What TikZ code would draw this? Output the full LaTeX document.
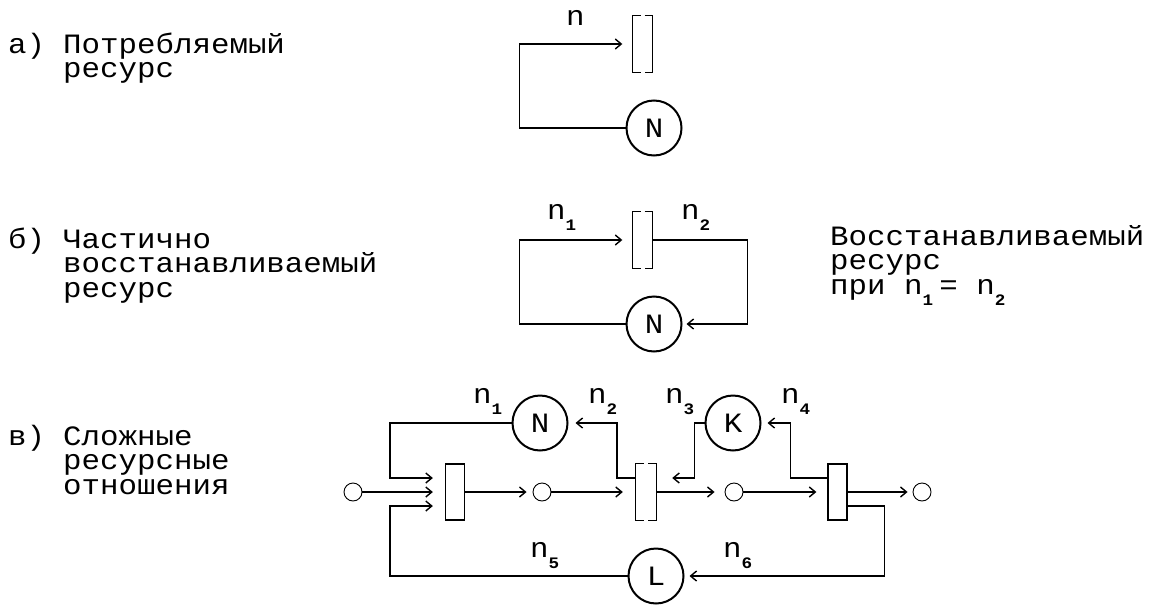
\documentclass[tikz,border=0pt]{standalone}
\usepackage{fontspec}
\setmainfont[FakeStretch=1.1]{Liberation Mono}
\usetikzlibrary{arrows.meta,positioning}

% small bold index under the letter n
\newcommand{\ix}[1]{\makebox[0.6em][l]{\raisebox{-11pt}{\fontsize{16}{16}\selectfont\bfseries #1}}}
% box drawn as two brackets
\newcommand{\splitbox}[1]{%
  \draw[line width=1.3pt] ([xshift=-2pt]#1.north) -| (#1.south west) -- ([xshift=-2pt]#1.south);
  \draw[line width=1.3pt] ([xshift=2pt]#1.north) -| (#1.south east) -- ([xshift=2pt]#1.south);}

\begin{document}
\begin{tikzpicture}[x=1pt,y=-1pt,font=\fontsize{28}{24.5}\selectfont,
  >={Straight Barb[length=6pt,width=10pt]},
  txt/.style={anchor=base west,inner sep=0pt,align=left},
  lbl/.style={anchor=base west,inner sep=0pt},
  rbox/.style={draw,line width=1.3pt,minimum width=19pt,minimum height=56pt,inner sep=0pt},
  hbox/.style={minimum width=20pt,minimum height=56pt,inner sep=0pt},
  res/.style={circle,draw,line width=2pt,minimum size=55pt,inner sep=0pt},
  tok/.style={circle,draw,line width=0.9pt,minimum size=18pt,inner sep=0pt},
  link/.style={line width=1.4pt}]
  \useasboundingbox (0,0) rectangle (1159,605);

  % captions (base = last line)
  \node[txt] (a-tag) at (8,53) {а)};
  \node[txt] (a-text) at (63,77.5) {Потребляемый\\ресурс};
  \node[txt] (b-tag) at (8,248) {б)};
  \node[txt] (b-text) at (63,297) {Частично\\восстанавливаемый\\ресурс};
  \node[txt] (c-tag) at (8,445) {в)};
  \node[txt] (c-text) at (63,494) {Сложные\\ресурсные\\отношения};
  \node[txt] (b-note) at (830,294) {Восстанавливаемый\\ресурс\\при n\ix{1}= n\ix{2}};

  % a) consumed resource
  \node[hbox] (ra) at (642.5,44) {};
  \splitbox{ra}
  \node[res] (Na) at (654,128) {N};
  \draw[link,->,shorten >=10pt] (Na.west) -- ++(-106,0) |- (ra.west);
  \node[lbl] (na) at (566,25) {n};

  % b) partly restored resource
  \node[hbox] (rb) at (642.5,240) {};
  \splitbox{rb}
  \node[res] (Nb) at (654,324) {N};
  \draw[link,->,shorten >=10pt] (Nb.west) -- ++(-106,0) |- (rb.west);
  \draw[link,->,shorten >=4pt] (rb.east) -- ++(94.5,0) |- (Nb.east);
  \node[lbl] (nb1) at (547,219) {n\ix{1}};
  \node[lbl] (nb2) at (681,219) {n\ix{2}};

  % c) complex relations
  \coordinate (lbus) at (390,0);
  \node[tok] (s0) at (353,492) {};
  \node[rbox] (r1) at (455,492) {};
  \node[tok] (s1) at (542,492) {};
  \node[hbox] (r2) at (646,492) {};
  \splitbox{r2}
  \node[tok] (s2) at (734,492) {};
  \node[rbox] (r3) at (837.5,492) {};
  \node[tok] (s3) at (922,492) {};
  \node[res] (Nc) at (540,423) {N};
  \node[res] (Kc) at (733,423) {K};
  \node[res] (Lc) at (656,576) {L};

  \draw[link,->,shorten >=12pt] (s0.east) -- (r1.west);
  \draw[link,->,shorten >=12pt] (Nc.west) -- (Nc.west -| lbus) |- ([yshift=14pt]r1.west);
  \draw[link,->,shorten >=12pt] (Lc.west) -- (Lc.west -| lbus) |- ([yshift=-14pt]r1.west);
  \draw[link,->,shorten >=6pt] (r1.east) -- (s1.west);
  \draw[link,->,shorten >=13pt] (s1.east) -- (r2.west);
  \draw[link,->,shorten >=7pt] ([yshift=14pt]r2.west) -- ++(-19,0) |- (Nc.east);
  \draw[link,->,shorten >=16pt] (Kc.west) -- ++(-10,0) |- ([yshift=14pt]r2.east);
  \draw[link,->,shorten >=10pt] (r2.east) -- (s2.west);
  \draw[link,->,shorten >=11pt] (s2.east) -- (r3.west);
  \draw[link,->,shorten >=6pt] ([yshift=14pt]r3.west) -- ++(-37,0) |- (Kc.east);
  \draw[link,->,shorten >=5pt] (r3.east) -- (s3.west);
  \draw[link,->,shorten >=5pt] ([yshift=-14pt]r3.east) -- ++(37,0) |- (Lc.east);

  \node[lbl] (nc1) at (473,403) {n\ix{1}};
  \node[lbl] (nc2) at (588,403) {n\ix{2}};
  \node[lbl] (nc3) at (665,403) {n\ix{3}};
  \node[lbl] (nc4) at (781,403) {n\ix{4}};
  \node[lbl] (nc5) at (530,557) {n\ix{5}};
  \node[lbl] (nc6) at (723,557) {n\ix{6}};
\end{tikzpicture}
\end{document}
